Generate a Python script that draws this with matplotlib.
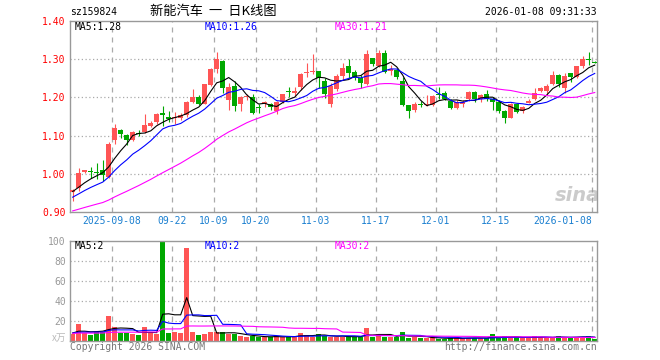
import numpy as np
import pandas as pd
import matplotlib
matplotlib.use('Agg')
import matplotlib.pyplot as plt

plt.rcParams['font.family'] = ['DejaVu Sans Mono', 'Noto Sans CJK SC']

# daily OHLC, 2025-08-28 .. 2026-01-08
opens = [0.952, 0.962, 1.005, 1.007, 1.004, 1.009, 0.991, 1.088, 1.114, 1.102,
         1.089, 1.108, 1.109, 1.124, 1.136, 1.158, 1.149, 1.146, 1.147, 1.153,
         1.188, 1.200, 1.184, 1.232, 1.274, 1.296, 1.192, 1.230, 1.182, 1.200,
         1.200, 1.174, 1.182, 1.182, 1.165, 1.188, 1.216, 1.212, 1.228, 1.264,
         1.266, 1.269, 1.244, 1.184, 1.221, 1.256, 1.281, 1.266, 1.252, 1.235,
         1.303, 1.282, 1.316, 1.270, 1.272, 1.244, 1.180, 1.167, 1.183, 1.180,
         1.180, 1.209, 1.212, 1.191, 1.173, 1.182, 1.197, 1.215, 1.195, 1.209,
         1.195, 1.188, 1.164, 1.147, 1.182, 1.165, 1.186, 1.197, 1.217, 1.217,
         1.235, 1.259, 1.225, 1.263, 1.253, 1.281, 1.300, 1.293]
highs = [0.960, 1.015, 1.011, 1.019, 1.028, 1.037, 1.083, 1.131, 1.117, 1.104,
         1.112, 1.115, 1.156, 1.137, 1.160, 1.177, 1.165, 1.162, 1.160, 1.190,
         1.221, 1.206, 1.236, 1.276, 1.318, 1.298, 1.238, 1.244, 1.203, 1.209,
         1.209, 1.184, 1.191, 1.185, 1.190, 1.210, 1.228, 1.228, 1.263, 1.290,
         1.314, 1.270, 1.250, 1.237, 1.262, 1.290, 1.300, 1.272, 1.259, 1.324,
         1.304, 1.324, 1.323, 1.285, 1.276, 1.254, 1.181, 1.187, 1.190, 1.206,
         1.206, 1.228, 1.218, 1.197, 1.192, 1.193, 1.216, 1.218, 1.209, 1.219,
         1.200, 1.192, 1.166, 1.185, 1.185, 1.177, 1.195, 1.224, 1.228, 1.236,
         1.270, 1.260, 1.263, 1.265, 1.283, 1.309, 1.318, 1.294]
lows = [0.930, 0.956, 1.001, 0.990, 0.986, 0.982, 0.988, 1.078, 1.095, 1.075,
        1.087, 1.098, 1.107, 1.122, 1.130, 1.126, 1.136, 1.130, 1.140, 1.150,
        1.186, 1.180, 1.182, 1.230, 1.263, 1.212, 1.166, 1.164, 1.164, 1.193,
        1.156, 1.160, 1.174, 1.168, 1.156, 1.185, 1.202, 1.203, 1.219, 1.254,
        1.262, 1.224, 1.198, 1.175, 1.218, 1.246, 1.250, 1.245, 1.224, 1.232,
        1.281, 1.279, 1.263, 1.259, 1.248, 1.178, 1.147, 1.163, 1.176, 1.178,
        1.178, 1.197, 1.194, 1.170, 1.170, 1.176, 1.190, 1.188, 1.188, 1.190,
        1.167, 1.159, 1.133, 1.145, 1.160, 1.160, 1.185, 1.193, 1.215, 1.210,
        1.233, 1.228, 1.212, 1.241, 1.250, 1.278, 1.285, 1.289]
closes = [0.958, 1.001, 1.009, 1.005, 1.001, 0.998, 1.077, 1.121, 1.105, 1.089,
          1.109, 1.104, 1.127, 1.133, 1.156, 1.154, 1.143, 1.150, 1.153, 1.188,
          1.200, 1.182, 1.235, 1.274, 1.300, 1.224, 1.227, 1.178, 1.202, 1.203,
          1.158, 1.172, 1.188, 1.175, 1.188, 1.209, 1.214, 1.217, 1.261, 1.267,
          1.269, 1.250, 1.209, 1.230, 1.256, 1.276, 1.263, 1.252, 1.238, 1.314,
          1.288, 1.316, 1.267, 1.275, 1.254, 1.180, 1.165, 1.182, 1.181, 1.184,
          1.203, 1.207, 1.197, 1.173, 1.187, 1.188, 1.215, 1.197, 1.206, 1.197,
          1.188, 1.164, 1.147, 1.182, 1.162, 1.175, 1.190, 1.212, 1.224, 1.230,
          1.259, 1.235, 1.256, 1.253, 1.281, 1.301, 1.297, 1.291]
# volume (x万)
volumes = [7, 17, 8, 6, 9, 9, 25, 14, 8, 8,
           7, 6, 14, 8, 7, 99, 8, 9, 8, 93,
           9, 6, 7, 9, 9, 9, 7, 7, 5, 4,
           5, 4, 4, 4, 5, 4, 4, 5, 8, 6,
           4, 7, 5, 4, 4, 4.5, 4.5, 4.5, 4, 13,
           4, 7, 4.5, 4, 4, 9, 3, 4, 3, 3,
           4, 2, 2, 3, 3, 3, 3, 3, 3, 3,
           7, 3, 5, 3, 4, 3, 3, 5, 4, 3,
           3, 5, 4, 3, 4, 4.5, 5, 2]

# sessions before the window, only used to start the moving averages
prior_closes = [0.87, 0.87, 0.875, 0.87, 0.875, 0.88, 0.875, 0.88, 0.875, 0.88,
                0.88, 0.885, 0.89, 0.89, 0.895, 0.895, 0.90, 0.90, 0.905, 0.91,
                0.915, 0.92, 0.925, 0.93, 0.93, 0.945, 0.95, 0.955, 0.96]
prior_volumes = [7, 8, 7, 8, 7, 8, 7, 7, 8, 7,
                 8, 7, 7, 8, 7, 8, 7, 7, 8, 7,
                 8, 7, 7, 8, 9, 8, 8, 9, 8]

tick_idx = [7, 17, 24, 31, 41, 51, 61, 71, 87]
tick_labels = ['2025-09-08', '09-22', '10-09', '10-20', '11-03', '11-17',
               '12-01', '12-15', '2026-01-08']

n = len(closes)
x = np.arange(n)
o = np.array(opens); h = np.array(highs); l = np.array(lows); c = np.array(closes)
v = np.array(volumes)
up = c >= o
RED, GREEN = '#ff5555', '#00a800'
cols = np.where(up, RED, GREEN)

c_all = pd.Series(prior_closes + closes)
v_all = pd.Series(prior_volumes + volumes)
ma = {k: c_all.rolling(k, min_periods=1).mean().values[-n:] for k in (5, 10, 30)}
vma = {k: v_all.rolling(k, min_periods=1).mean().values[-n:] for k in (5, 10, 30)}
ma_cols = {5: 'black', 10: '#0000ff', 30: '#ff00ff'}

W, H = 660, 360
fig = plt.figure(figsize=(6.6, 3.6), dpi=100)

def box(left, top, right, bottom):
    return [left / W, 1 - bottom / H, (right - left) / W, (bottom - top) / H]

def ftext(px, py, s, **kw):
    fig.text(px / W, 1 - py / H, s, va='center', fontsize=7, **kw)

ax = fig.add_axes(box(70, 21, 597, 212))
axv = fig.add_axes(box(70, 241, 597, 341))
GRID = '#aaaaaa'
xt = [t - 0.45 for t in tick_idx]

for a in (ax, axv):
    a.set_xlim(-0.45, 87.38)
    for s in a.spines.values():
        s.set_color('#999999')
        s.set_linewidth(1)
    for t in xt:
        a.axvline(t, color=GRID, lw=0.9, ls=(0, (4, 4)), zorder=0)

# price panel
ax.set_ylim(0.9, 1.4)
for y in (1.0, 1.1, 1.2, 1.3):
    ax.axhline(y, color=GRID, lw=0.9, ls=(0, (1, 2)), zorder=0)
ax.vlines(x, l, h, colors=cols, lw=0.8, zorder=2)
body = np.maximum(np.abs(c - o), 0.0015)
ax.bar(x, body, bottom=np.minimum(o, c), width=0.78, color=cols, zorder=3)
for k in (5, 10, 30):
    ax.plot(x, ma[k], color=ma_cols[k], lw=0.8, zorder=4)
ax.set_yticks([0.9, 1.0, 1.1, 1.2, 1.3, 1.4])
ax.set_yticklabels(['%.2f' % t for t in [0.9, 1.0, 1.1, 1.2, 1.3, 1.4]],
                   color='#ff0000', fontsize=7)
ax.set_xticks(xt)
ax.set_xticklabels(tick_labels, color='#1a7fd0', fontsize=7)
ax.get_xticklabels()[-1].set_horizontalalignment('right')
ax.tick_params(length=0, pad=3)

# volume panel
axv.set_ylim(0, 100)
for y in (20, 40, 60, 80):
    axv.axhline(y, color=GRID, lw=0.9, ls=(0, (1, 2)), zorder=0)
axv.bar(x, v, width=0.8, color=cols, zorder=2)
for k in (5, 10, 30):
    axv.plot(x, vma[k], color=ma_cols[k], lw=0.8, zorder=3)
axv.set_yticks([20, 40, 60, 80, 100])
axv.set_yticklabels(['20', '40', '60', '80', '100'], color='#999999', fontsize=7)
axv.set_xticks([])
axv.tick_params(axis='y', length=0, pad=3)

# header and legends
ftext(70, 12, 'sz159824')
fig.text(213 / W, 1 - 12 / H, '新能汽车  一  日K线图', ha='center', va='center',
         fontsize=9.5, family=['Noto Sans CJK SC', 'DejaVu Sans'])
ftext(597, 12, '2026-01-08 09:31:33', ha='right')
ftext(75, 27, 'MA5:1.28', color='black')
ftext(205, 27, 'MA10:1.26', color='#0000ff')
ftext(335, 27, 'MA30:1.21', color='#ff00ff')
ftext(75, 246, 'MA5:2', color='black')
ftext(205, 246, 'MA10:2', color='#0000ff')
ftext(335, 246, 'MA30:2', color='#ff00ff')
fig.text(66 / W, 1 - 338 / H, 'x万', ha='right', va='center', fontsize=7,
         color='#bbbbbb', family=['Noto Sans CJK SC', 'DejaVu Sans'])
ftext(70, 347, 'Copyright 2026 SINA.COM', color='#777777')
ftext(597, 347, 'http://finance.sina.com.cn', ha='right', color='#777777')
fig.text(577 / W, 1 - 196 / H, 'sina', ha='center', va='center', fontsize=14,
         style='italic', weight='bold', color='#999999', alpha=0.5,
         family='DejaVu Sans')

fig.savefig('out.png', dpi=100)
